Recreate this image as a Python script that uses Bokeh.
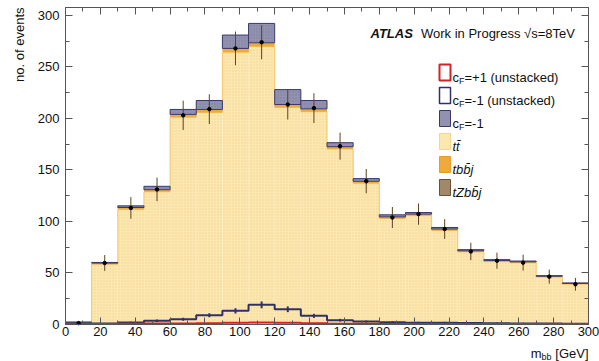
import numpy as np
from bokeh.plotting import figure
from bokeh.models import LinearAxis, SingleIntervalTicker, Label, BoxAnnotation, Range1d
from bokeh.embed import file_html
from bokeh.resources import INLINE

# ---- data ----
bin_edges = [0, 15, 30, 45, 60, 75, 90, 105, 120, 135, 150, 165, 180, 195, 210, 225, 240, 255, 270, 285, 300]
ttbar = [1.5, 58.2, 111.5, 128.6, 201.0, 205.7, 264.3, 269.8, 210.5, 206.5, 170.2, 136.9, 102.7, 105.4, 91.1, 70.2, 60.8, 59.6, 45.8, 38.9]
tbbj = [0.3, 1.0, 1.6, 1.8, 2.5, 2.6, 3.2, 3.2, 2.6, 2.4, 2.0, 1.7, 1.4, 1.4, 1.2, 1.0, 0.9, 0.9, 0.7, 0.6]
tzbbj = [0.05, 0.2, 0.3, 0.3, 0.4, 0.4, 0.5, 0.5, 0.4, 0.4, 0.3, 0.3, 0.2, 0.2, 0.2, 0.15, 0.15, 0.1, 0.1, 0.1]
cf_minus = [0.2, 0.6, 1.6, 3.3, 4.8, 8.7, 13.0, 18.8, 14.5, 8.1, 3.9, 2.6, 2.0, 1.5, 1.5, 1.1, 0.9, 0.8, 0.6, 0.5]
cf_minus_err = [0.2, 0.4, 0.8, 1.2, 1.5, 2.0, 2.6, 3.3, 2.8, 2.0, 1.3, 1.0, 0.9, 0.8, 0.8, 0.7, 0.6, 0.6, 0.5, 0.5]
cf_plus = [0.1, 0.2, 0.4, 0.6, 0.8, 1.0, 1.3, 1.6, 1.3, 0.9, 0.5, 0.4, 0.3, 0.3, 0.2, 0.2, 0.2, 0.1, 0.1, 0.1]
data = [1.0, 59.5, 113.0, 131.0, 203.0, 209.0, 268.0, 274.0, 213.5, 210.0, 173.0, 139.0, 103.7, 107.0, 92.5, 70.7, 61.7, 59.8, 46.2, 38.8]
x_tick_interval = 20
y_tick_interval = 50

# ---- layout constants (pixels of the 599x361 canvas) ----
W, H = 599, 361
PX_X0, PX_X300 = 65.0, 588.0       # where x=0 and x=300 sit
PX_Y0, PX_Y300 = 323.7, 15.0       # where y=0 and y=300 sit
PX_TOP = 7.3                       # top edge of the plot box
sx = (PX_X300 - PX_X0) / 300.0
sy = (PX_Y0 - PX_Y300) / 300.0
x_start = -PX_X0 / sx
x_end = 300.0 + (W - PX_X300) / sx
y_end = PX_Y0 / sy
y_start = -(H - PX_Y0) / sy
y_box_top = (PX_Y0 - PX_TOP) / sy

def cy(py):   # pixel y from top -> screen y from bottom
    return H - py

edges = np.array(bin_edges, dtype=float)
left = edges[:-1]
right = edges[1:]
centers = 0.5 * (left + right)
l1 = np.array(ttbar)
l2 = l1 + np.array(tbbj)
l3 = l2 + np.array(tzbbj)
l4 = l3 + np.array(cf_minus)
d = np.array(data)
derr = np.sqrt(d)

FONT = "Liberation Sans"
AXC = "#555555"

p = figure(width=W, height=H, x_range=Range1d(x_start, x_end), y_range=Range1d(y_start, y_end),
           output_backend="svg", toolbar_location=None,
           min_border_left=0, min_border_right=0, min_border_top=0, min_border_bottom=0)
p.title.visible = False
p.xgrid.visible = False
p.ygrid.visible = False
p.outline_line_color = None
p.background_fill_color = "white"
p.border_fill_color = "white"

def style_axis(ax, interval, loc, bounds, labels=True):
    ax.ticker = SingleIntervalTicker(interval=interval, num_minor_ticks=2)
    ax.fixed_location = loc
    ax.bounds = bounds
    ax.major_tick_in = 7
    ax.major_tick_out = 0
    ax.minor_tick_in = 4
    ax.minor_tick_out = 0
    ax.axis_line_color = AXC
    ax.major_tick_line_color = AXC
    ax.minor_tick_line_color = AXC
    if labels:
        ax.major_label_text_font = FONT
        ax.major_label_text_font_size = "13px"
        ax.major_label_text_color = "#111111"
    else:
        ax.major_label_text_color = None
        ax.major_label_standoff = 0

style_axis(p.xaxis[0], x_tick_interval, 0, (0, 300))
p.xaxis[0].major_label_standoff = 3
style_axis(p.yaxis[0], y_tick_interval, 0, (0, y_box_top))
p.yaxis[0].major_label_standoff = 6

top_ax = LinearAxis()
style_axis(top_ax, x_tick_interval, y_box_top, (0, 300), labels=False)
p.add_layout(top_ax, "above")
right_ax = LinearAxis()
style_axis(right_ax, y_tick_interval, 300, (0, y_box_top), labels=False)
p.add_layout(right_ax, "right")

# ---- stacked histograms ----
p.quad(left=left, right=right, bottom=0, top=l1, fill_color="#fce7b1", line_color=None,
       hatch_pattern=".", hatch_color="#f3d590", hatch_scale=3, hatch_weight=1)
p.step(x=list(edges), y=list(l1) + [l1[-1]], mode="after", line_color="#f5c466", line_width=1)
p.quad(left=left, right=right, bottom=l1, top=l2, fill_color="#eeaa3a", line_color=None)
p.quad(left=left, right=right, bottom=l2, top=l3, fill_color="#8f7352", line_color=None)
p.quad(left=left, right=right, bottom=l3, top=l4, fill_color="#9292b0", line_color="#3a3a6a",
       line_width=1, hatch_pattern=".", hatch_color="#7d7d9e", hatch_scale=3, hatch_weight=1)

# ---- unstacked ----
p.step(x=list(edges), y=list(cf_minus) + [cf_minus[-1]], mode="after", line_color="#303068", line_width=2)
cm = np.array(cf_minus)
ce = np.array(cf_minus_err)
p.segment(x0=centers, y0=cm - ce, x1=centers, y1=cm + ce, line_color="#303068", line_width=2)
p.step(x=list(edges), y=list(cf_plus) + [cf_plus[-1]], mode="after", line_color="#d42027", line_width=2)

# ---- data ----
p.segment(x0=centers, y0=d - derr, x1=centers, y1=d + derr, line_color="#5e4222", line_width=1)
p.scatter(x=centers, y=d, size=3.5, color="black")

# ---- texts (screen units: x from left edge, y from bottom edge of the canvas) ----
def lab(text, x, y, size="13px", align="left", baseline="alphabetic", style="normal", angle=0.0, color="#111111"):
    p.add_layout(Label(x=x, y=y, x_units="screen", y_units="screen", text=text,
                       text_font=FONT, text_font_size=size, text_align=align,
                       text_baseline=baseline, text_font_style=style, angle=angle,
                       text_color=color))

lab("ATLAS", 370, cy(33), style="bold italic")
lab("Work in Progress  \u221as=8TeV", 578, cy(33), align="right")

# axis titles
lab("no. of events", 18.5, cy(7), align="right", angle=np.pi / 2)
lab("\u00a0[GeV]", 588, cy(353), align="right")
lab("bb", 551, cy(356), size="9px", align="right")
lab("m", 541, cy(353), align="right")

# legend
rows_top = [cy(64), cy(87), cy(110), cy(133), cy(156), cy(179)]
bx0, bx1 = 439, 450
swatches = [
    dict(fill_color="white", line_color="#d42027", line_width=2),
    dict(fill_color="white", line_color="#303068", line_width=1.5),
    dict(fill_color="#9292b0", line_color="#3a3a6a", line_width=1),
    dict(fill_color="#fce7b1", line_color="#f5d58c", line_width=1),
    dict(fill_color="#eeaa3a", line_color="#e89a30", line_width=1),
    dict(fill_color="#a08868", line_color="#6a5038", line_width=1),
]
for t, sw in zip(rows_top, swatches):
    p.add_layout(BoxAnnotation(left=bx0, right=bx1, top=t, bottom=t - 16,
                               left_units="screen", right_units="screen",
                               top_units="screen", bottom_units="screen",
                               fill_alpha=1.0, line_alpha=1.0, **sw))

tx = 452
for i, rest in enumerate(["=+1 (unstacked)", "=-1 (unstacked)", "=-1"]):
    base = rows_top[i] - 13
    lab("c", tx, base)
    lab("F", tx + 6.5, base - 3, size="9px")
    lab(rest, tx + 12, base)
lab("tt\u0304", tx, rows_top[3] - 13, style="italic")
lab("tbb\u0304j", tx, rows_top[4] - 13, style="italic")
lab("tZbb\u0304j", tx, rows_top[5] - 13, style="italic")

open("out.html", "w").write(file_html(p, INLINE))
